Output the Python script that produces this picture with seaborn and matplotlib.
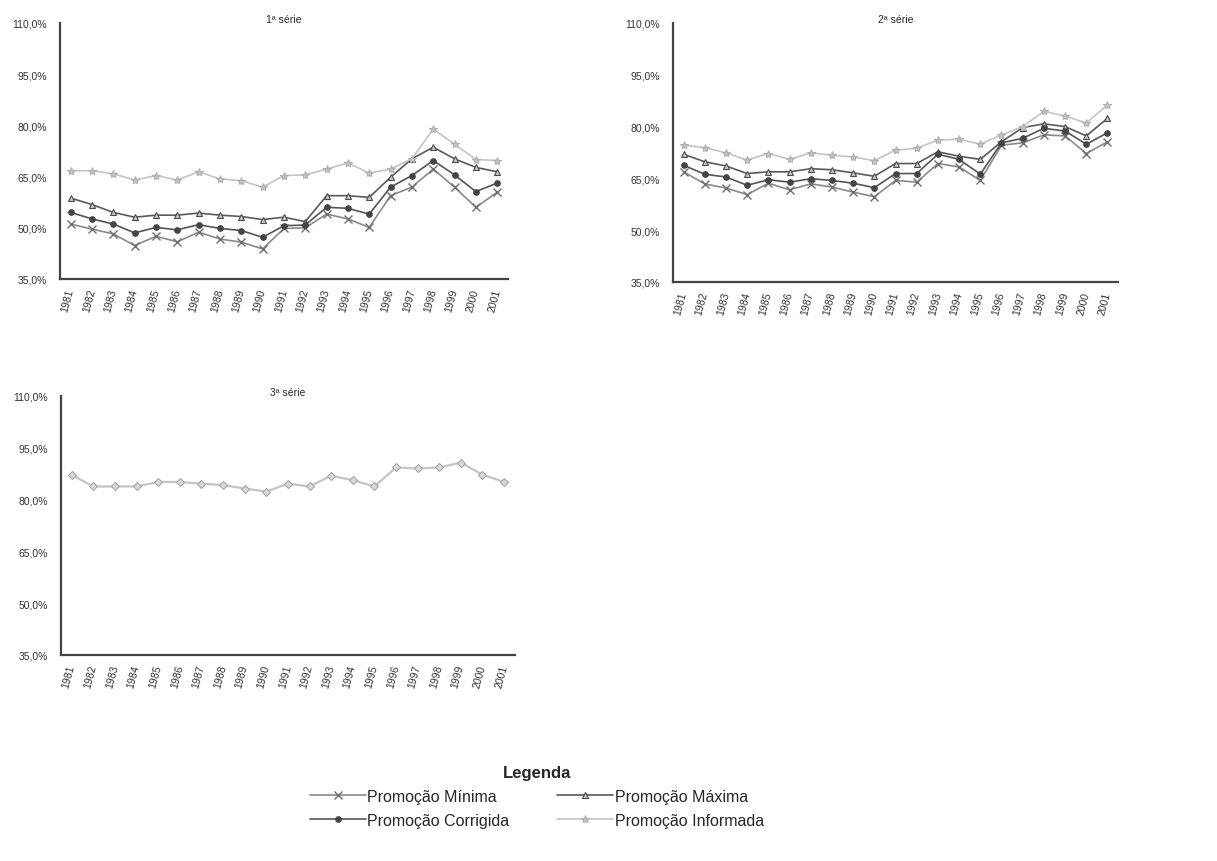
import numpy as np
import pandas as pd
import matplotlib
matplotlib.use('Agg')
import matplotlib.pyplot as plt
import seaborn as sns
from matplotlib.lines import Line2D
from matplotlib.ticker import FuncFormatter

sns.set_style('white')
plt.rcParams['font.family'] = ['Liberation Sans', 'DejaVu Sans']

years = [str(y) for y in range(1981, 2002)]

# 1ª série
s1_minima = [51.1, 49.6, 48.2, 44.8, 47.5, 45.9, 48.7, 46.7, 45.8, 43.8, 49.8,
             50.0, 54.0, 52.6, 50.1, 59.4, 61.9, 67.2, 61.9, 56.0, 60.4]
s1_maxima = [58.7, 56.8, 54.5, 53.1, 53.7, 53.7, 54.3, 53.7, 53.3, 52.4, 53.1,
             51.8, 59.4, 59.4, 58.9, 64.8, 70.2, 73.6, 70.2, 67.7, 66.4]
s1_corrigida = [54.5, 52.6, 51.1, 48.5, 50.1, 49.4, 50.9, 49.8, 49.2, 47.2, 50.6,
                50.8, 56.0, 55.7, 54.0, 61.9, 65.3, 69.7, 65.5, 60.6, 63.1]
s1_informada = [66.7, 66.7, 65.8, 64.0, 65.3, 64.0, 66.4, 64.3, 63.8, 61.9, 65.3,
                65.5, 67.2, 69.0, 66.0, 67.2, 70.2, 78.9, 74.5, 70.0, 69.7]

# 2ª série
s2_minima = [66.9, 63.4, 62.2, 60.3, 63.6, 61.7, 63.4, 62.5, 61.0, 59.7, 64.4,
             63.9, 69.3, 68.3, 64.4, 74.6, 75.3, 77.6, 77.3, 72.2, 75.6]
s2_maxima = [72.0, 69.8, 68.6, 66.4, 66.9, 66.9, 67.8, 67.5, 66.6, 65.6, 69.3,
             69.3, 72.7, 71.4, 70.5, 75.6, 79.7, 80.8, 80.0, 77.3, 82.4]
s2_corrigida = [68.8, 66.2, 65.4, 63.0, 64.6, 63.9, 64.9, 64.4, 63.6, 62.3, 66.4,
                66.4, 72.0, 70.5, 66.2, 75.3, 76.6, 79.5, 78.7, 74.9, 78.2]
s2_informada = [74.6, 73.9, 72.4, 70.3, 72.2, 70.5, 72.4, 71.7, 71.2, 70.1, 73.2,
                73.7, 76.1, 76.3, 74.9, 77.6, 80.0, 84.4, 83.1, 81.0, 86.3]

# 3ª série
s3_informada = [87.1, 83.8, 83.8, 83.8, 85.1, 85.1, 84.6, 84.2, 83.2, 82.3, 84.6,
                83.8, 86.9, 85.6, 83.8, 89.3, 89.0, 89.3, 90.7, 87.2, 85.1]

series_names = ['Promoção Mínima', 'Promoção Máxima', 'Promoção Corrigida', 'Promoção Informada']
styles = {
    'Promoção Mínima': dict(color='#8a8a8a', marker='x', markersize=6, mec='#6e6e6e', mew=1.0),
    'Promoção Máxima': dict(color='#5a5a5a', marker='^', markersize=5, mfc='#c8c8c8', mec='#4a4a4a', mew=0.8),
    'Promoção Corrigida': dict(color='#555555', marker='o', markersize=4, mfc='#444444', mec='#444444', mew=0.8),
    'Promoção Informada': dict(color='#c4c4c4', marker='*', markersize=6, mfc='#c4c4c4', mec='#b0b0b0', mew=0.8),
}

fig = plt.figure(figsize=(12.17, 8.62), dpi=100)
ax1 = fig.add_axes([0.0493, 0.6752, 0.368, 0.297])
ax2 = fig.add_axes([0.553, 0.6717, 0.3657, 0.3005])
ax3 = fig.add_axes([0.0501, 0.239, 0.373, 0.3005])

x = np.arange(len(years))
pct = FuncFormatter(lambda v, p: f'{v:.1f}%'.replace('.', ','))


def style_axis(ax, title):
    ax.set_xlim(-0.5, len(years) - 0.5)
    ax.set_ylim(35, 110)
    ax.set_yticks([35, 50, 65, 80, 95, 110])
    ax.yaxis.set_major_formatter(pct)
    ax.set_xticks(x)
    ax.set_xticklabels(years, rotation=75, ha='right', va='center', fontsize=7.5,
                       rotation_mode='anchor', color='#333333')
    ax.set_xticks(np.arange(-0.5, len(years)), minor=True)
    ax.tick_params(axis='x', which='major', length=0, pad=7)
    ax.tick_params(axis='x', which='minor', length=3, width=1, color='#444444', direction='inout')
    ax.tick_params(axis='y', labelsize=7.5, labelcolor='#333333', length=3, width=1,
                   color='#444444', direction='inout', pad=8)
    for s in ['top', 'right']:
        ax.spines[s].set_visible(False)
    for s in ['left', 'bottom']:
        ax.spines[s].set_color('#444444')
        ax.spines[s].set_linewidth(1.6)
    ax.set_xlabel('')
    ax.set_ylabel('')
    ax.text(0.5, 1.015, title, transform=ax.transAxes, ha='center', va='center', fontsize=7.5)


for ax, data in [(ax1, [s1_minima, s1_maxima, s1_corrigida, s1_informada]),
                 (ax2, [s2_minima, s2_maxima, s2_corrigida, s2_informada])]:
    for name, vals in zip(series_names, data):
        sns.lineplot(x=x, y=vals, ax=ax, linewidth=1.2, **styles[name])

sns.lineplot(x=x, y=s3_informada, ax=ax3, color='#c4c4c4', linewidth=1.6, marker='D',
             markersize=4, mfc='#d8d8d8', mec='#a8a8a8', mew=0.8)

style_axis(ax1, '1ª série')
style_axis(ax2, '2ª série')
style_axis(ax3, '3ª série')

handles = [Line2D([], [], linewidth=1.2, **styles[n]) for n in series_names]
order = [0, 2, 1, 3]
leg = fig.legend([handles[i] for i in order], [series_names[i] for i in order],
                 loc='upper center', bbox_to_anchor=(0.441, 0.128), ncol=2, frameon=False,
                 fontsize=11.5, handlelength=3.5, columnspacing=3.0, labelspacing=0.55,
                 handletextpad=0.1, title='Legenda',
                 title_fontproperties={'weight': 'bold', 'size': 12})

fig.savefig('out.png', dpi=100, facecolor='white')
